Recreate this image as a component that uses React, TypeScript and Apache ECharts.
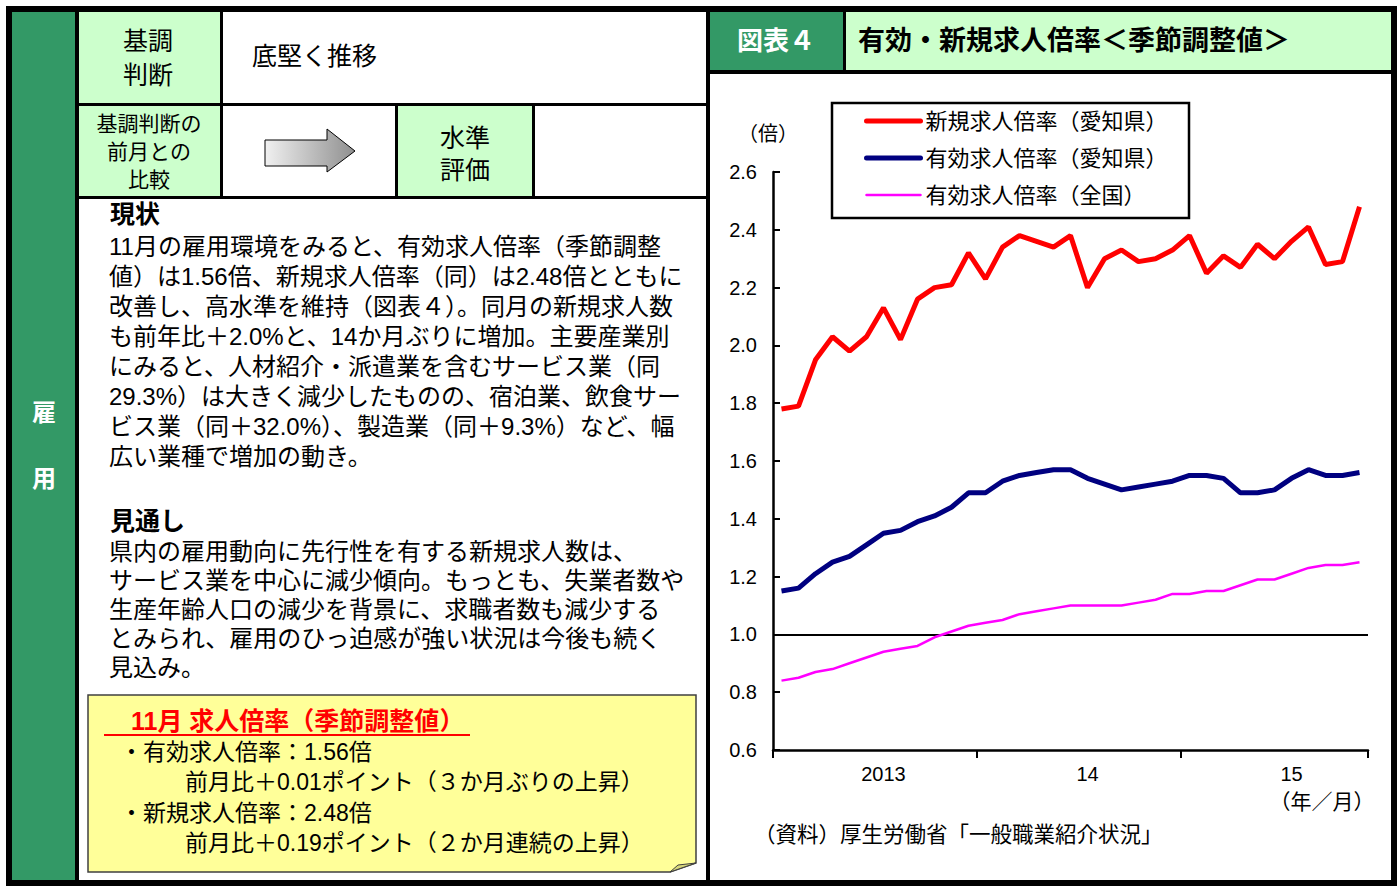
import { useEffect, useRef } from 'react';
import * as echarts from 'echarts';

// ---------- data ----------
const months = [
  '2013/1', '2013/2', '2013/3', '2013/4', '2013/5', '2013/6', '2013/7', '2013/8', '2013/9', '2013/10', '2013/11', '2013/12',
  '2014/1', '2014/2', '2014/3', '2014/4', '2014/5', '2014/6', '2014/7', '2014/8', '2014/9', '2014/10', '2014/11', '2014/12',
  '2015/1', '2015/2', '2015/3', '2015/4', '2015/5', '2015/6', '2015/7', '2015/8', '2015/9', '2015/10', '2015/11',
];
const yearLabels = ['2013', '14', '15'];
const yTicks = { min: 0.6, max: 2.6, interval: 0.2 };

const newOpeningsAichi = [
  1.78, 1.79, 1.95, 2.03, 1.98, 2.03, 2.13, 2.02, 2.16, 2.20, 2.21, 2.32,
  2.23, 2.34, 2.38, 2.36, 2.34, 2.38, 2.20, 2.30, 2.33, 2.29, 2.30, 2.33,
  2.38, 2.25, 2.31, 2.27, 2.35, 2.30, 2.36, 2.41, 2.28, 2.29, 2.48,
];
const activeOpeningsAichi = [
  1.15, 1.16, 1.21, 1.25, 1.27, 1.31, 1.35, 1.36, 1.39, 1.41, 1.44, 1.49,
  1.49, 1.53, 1.55, 1.56, 1.57, 1.57, 1.54, 1.52, 1.50, 1.51, 1.52, 1.53,
  1.55, 1.55, 1.54, 1.49, 1.49, 1.50, 1.54, 1.57, 1.55, 1.55, 1.56,
];
const activeOpeningsJapan = [
  0.84, 0.85, 0.87, 0.88, 0.90, 0.92, 0.94, 0.95, 0.96, 0.99, 1.01, 1.03,
  1.04, 1.05, 1.07, 1.08, 1.09, 1.10, 1.10, 1.10, 1.10, 1.11, 1.12, 1.14,
  1.14, 1.15, 1.15, 1.17, 1.19, 1.19, 1.21, 1.23, 1.24, 1.24, 1.25,
];
const seriesNames = ['新規求人倍率（愛知県）', '有効求人倍率（愛知県）', '有効求人倍率（全国）'];
const seriesColors = ['#ff0000', '#000080', '#ff00ff'];
const seriesWidths = [5, 5, 2.5];
const referenceLevel = 1.0;

const statusLines = [
  '11月の雇用環境をみると、有効求人倍率（季節調整',
  '値）は1.56倍、新規求人倍率（同）は2.48倍とともに',
  '改善し、高水準を維持（図表４）。同月の新規求人数',
  'も前年比＋2.0%と、14か月ぶりに増加。主要産業別',
  'にみると、人材紹介・派遣業を含むサービス業（同',
  '29.3%）は大きく減少したものの、宿泊業、飲食サー',
  'ビス業（同＋32.0%）、製造業（同＋9.3%）など、幅',
  '広い業種で増加の動き。',
];
const outlookLines = [
  '県内の雇用動向に先行性を有する新規求人数は、',
  'サービス業を中心に減少傾向。もっとも、失業者数や',
  '生産年齢人口の減少を背景に、求職者数も減少する',
  'とみられ、雇用のひっ迫感が強い状況は今後も続く',
  '見込み。',
];
const noteTitle = '11月 求人倍率（季節調整値）';
const noteLines = [
  '・有効求人倍率：1.56倍',
  '前月比＋0.01ポイント（３か月ぶりの上昇）',
  '・新規求人倍率：2.48倍',
  '前月比＋0.19ポイント（２か月連続の上昇）',
];

// ---------- styles ----------
const JP = '"Liberation Sans", "Noto Sans CJK JP", sans-serif';
const NUM = '"Liberation Sans", Arial, sans-serif';
const DARK_GREEN = '#339966';
const LIGHT_GREEN = '#ccffcc';

function rect(x: number, y: number, w: number, h: number, fill: string, z = 1) {
  return { type: 'rect', silent: true, z, shape: { x, y, width: w, height: h }, style: { fill } };
}
function txt(text: string, x: number, y: number, size: number, o: any = {}) {
  const font = `${o.bold ? 'bold ' : ''}${size}px ${o.family || JP}`;
  const align = o.align || 'left';
  return {
    type: 'text', silent: true, z: 20, x, y,
    style: {
      text, font, fill: o.fill || '#000',
      align, textAlign: align, verticalAlign: 'middle', textVerticalAlign: 'middle',
    },
  };
}

export default function App() {
  const ref = useRef<HTMLDivElement>(null);
  useEffect(() => {
    if (!ref.current) return;
    const chart = echarts.init(ref.current, undefined, { renderer: 'svg' });

    const g: any[] = [];
    // outer frame
    g.push(rect(6, 6, 1391, 6, '#000', 5));
    g.push(rect(6, 880, 1391, 6, '#000', 5));
    g.push(rect(6, 6, 6, 880, '#000', 5));
    g.push(rect(1391, 6, 6, 880, '#000', 5));
    // left green column
    g.push(rect(12, 12, 63, 868, DARK_GREEN));
    g.push(rect(75, 12, 4, 868, '#000', 5));
    // middle divider
    g.push(rect(706, 12, 4, 868, '#000', 5));
    // left header cells
    g.push(rect(79, 12, 141, 91, LIGHT_GREEN));
    g.push(rect(79, 106, 141, 90, LIGHT_GREEN));
    g.push(rect(398, 106, 134, 90, LIGHT_GREEN));
    g.push(rect(79, 103, 627, 3, '#000', 5));
    g.push(rect(79, 196, 627, 3, '#000', 5));
    g.push(rect(220, 12, 3, 186, '#000', 5));
    g.push(rect(395, 106, 3, 91, '#000', 5));
    g.push(rect(532, 106, 3, 91, '#000', 5));
    // right header
    g.push(rect(710, 12, 133, 58, DARK_GREEN));
    g.push(rect(843, 12, 3, 58, '#000', 5));
    g.push(rect(846, 12, 545, 58, LIGHT_GREEN));
    g.push(rect(710, 70, 681, 4, '#000', 5));

    // header texts
    g.push(txt('基調', 148, 41, 25, { align: 'center' }));
    g.push(txt('判断', 148, 75, 25, { align: 'center' }));
    g.push(txt('底堅く推移', 252, 56, 25));
    g.push(txt('基調判断の', 149, 123, 21, { align: 'center' }));
    g.push(txt('前月との', 149, 151, 21, { align: 'center' }));
    g.push(txt('比較', 149, 179, 21, { align: 'center' }));
    g.push(txt('水準', 465, 138, 25, { align: 'center' }));
    g.push(txt('評価', 465, 170, 25, { align: 'center' }));
    // arrow
    g.push({
      type: 'polygon', silent: true, z: 10,
      shape: { points: [[265, 140], [327, 140], [327, 129], [355, 151], [327, 172], [327, 166], [265, 166]] },
      style: {
        stroke: '#000', lineWidth: 1,
        fill: { type: 'linear', x: 0, y: 0, x2: 1, y2: 0, colorStops: [{ offset: 0, color: '#f0f0f0' }, { offset: 1, color: '#8f8f8f' }] },
      },
    });
    // side label
    g.push(txt('雇', 44, 412, 24, { align: 'center', bold: true, fill: '#fff' }));
    g.push(txt('用', 44, 478, 24, { align: 'center', bold: true, fill: '#fff' }));

    // body text
    g.push(txt('現状', 110, 214, 25, { bold: true }));
    statusLines.forEach((s, i) => g.push(txt(s, 109, 246 + i * 30.1, 24)));
    g.push(txt('見通し', 110, 521, 25, { bold: true }));
    outlookLines.forEach((s, i) => g.push(txt(s, 109, 551 + i * 29, 24)));

    // note box
    g.push({
      type: 'polygon', silent: true, z: 8,
      shape: { points: [[88, 695], [696, 695], [696, 863], [670, 872], [88, 872]] },
      style: { fill: '#ffff99', stroke: '#404040', lineWidth: 1.5 },
    });
    g.push({
      type: 'polygon', silent: true, z: 9,
      shape: { points: [[670, 872], [678, 865], [696, 863]] },
      style: { fill: '#d6d67a', stroke: '#404040', lineWidth: 1 },
    });
    g.push(txt(noteTitle, 131, 721, 25, { bold: true, fill: '#ff0000' }));
    g.push({ type: 'line', silent: true, z: 20, shape: { x1: 104, y1: 735, x2: 470, y2: 735 }, style: { stroke: '#ff0000', lineWidth: 2 } });
    g.push(txt(noteLines[0], 120, 752, 23));
    g.push(txt(noteLines[1], 185, 782, 23));
    g.push(txt(noteLines[2], 120, 813, 23));
    g.push(txt(noteLines[3], 185, 843, 23));

    // right header texts
    g.push(txt('図表４', 776, 41, 26, { align: 'center', bold: true, fill: '#fff' }));
    g.push(txt('有効・新規求人倍率＜季節調整値＞', 858, 41, 27, { bold: true }));

    // chart captions
    g.push(txt('（倍）', 768, 134, 20, { align: 'center' }));
    g.push(txt('（年／月）', 1322, 801, 21, { align: 'center' }));
    g.push(txt('（資料）厚生労働省「一般職業紹介状況」', 754, 835, 21.5));

    // legend frame
    g.push({ type: 'rect', silent: true, z: 1, shape: { x: 832, y: 103, width: 357, height: 115 }, style: { fill: '#fff', stroke: '#000', lineWidth: 2.5 } });

    const option: any = {
      animation: false,
      backgroundColor: '#ffffff',
      graphic: { elements: g },
      grid: { left: 773, top: 172, width: 595, height: 578, containLabel: false },
      legend: {
        orient: 'vertical', left: 864, top: 110, padding: 0,
        itemWidth: 54, itemHeight: 22, itemGap: 15, selectedMode: false, z: 10,
        itemStyle: { opacity: 0 },
        textStyle: { fontFamily: JP, fontSize: 22, color: '#000', lineHeight: 22 },
        data: seriesNames.map((name, i) => ({
          name,
          itemStyle: { opacity: 0 },
          lineStyle: { color: seriesColors[i], width: seriesWidths[i], cap: 'round' },
        })),
      },
      xAxis: {
        type: 'category', data: months, boundaryGap: true,
        axisLine: { lineStyle: { color: '#000', width: 2.5 } },
        axisTick: { show: true, length: 8, interval: (i: number) => i % 12 === 0, lineStyle: { color: '#000', width: 2 } },
        axisLabel: {
          interval: 0, margin: 14, color: '#000', fontFamily: NUM, fontSize: 20,
          formatter: (_v: string, i: number) => (i % 12 === 6 ? yearLabels[Math.floor(i / 12)] : ''),
        },
        splitLine: { show: false },
      },
      yAxis: {
        type: 'value', min: yTicks.min, max: yTicks.max, interval: yTicks.interval,
        axisLine: { show: true, lineStyle: { color: '#000', width: 2.5 } },
        axisTick: { show: true, inside: true, length: 7, lineStyle: { color: '#000', width: 2 } },
        axisLabel: { margin: 16, color: '#000', fontFamily: NUM, fontSize: 20, formatter: (v: number) => v.toFixed(1) },
        splitLine: { show: false },
      },
      series: [
        {
          name: seriesNames[0], type: 'line', data: newOpeningsAichi, symbol: 'none', z: 4,
          lineStyle: { color: seriesColors[0], width: seriesWidths[0] }, itemStyle: { color: seriesColors[0] }, emphasis: { disabled: true },
        },
        {
          name: seriesNames[1], type: 'line', data: activeOpeningsAichi, symbol: 'none', z: 4,
          lineStyle: { color: seriesColors[1], width: seriesWidths[1] }, itemStyle: { color: seriesColors[1] }, emphasis: { disabled: true },
        },
        {
          name: seriesNames[2], type: 'line', data: activeOpeningsJapan, symbol: 'none', z: 4,
          lineStyle: { color: seriesColors[2], width: seriesWidths[2] }, itemStyle: { color: seriesColors[2] }, emphasis: { disabled: true },
          markLine: {
            silent: true, symbol: 'none', label: { show: false }, z: 3,
            lineStyle: { color: '#000', width: 2, type: 'solid' },
            data: [{ yAxis: referenceLevel }],
          },
        },
      ],
    };
    chart.setOption(option);
    return () => chart.dispose();
  }, []);

  return (
    <div
      ref={ref}
      style={{ position: 'fixed', left: 0, top: 0, width: 1399, height: 886, background: '#fff' }}
    />
  );
}
